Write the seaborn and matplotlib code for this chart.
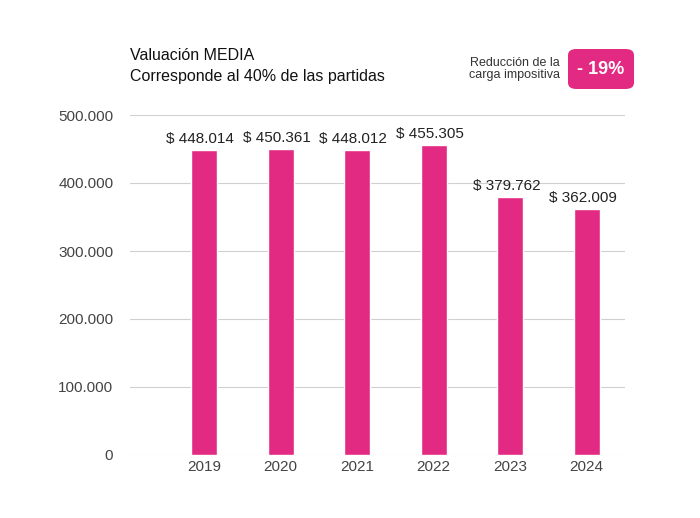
import matplotlib.pyplot as plt
import seaborn as sns
import pandas as pd
from matplotlib.patches import FancyBboxPatch

years = ["2019", "2020", "2021", "2022", "2023", "2024"]
values = [448014, 450361, 448012, 455305, 379762, 362009]
labels = ["$ 448.014", "$ 450.361", "$ 448.012", "$ 455.305", "$ 379.762", "$ 362.009"]
yticks = [0, 100000, 200000, 300000, 400000, 500000]
ytick_labels = ["0", "100.000", "200.000", "300.000", "400.000", "500.000"]

pink = "#E32A82"
df = pd.DataFrame({"year": years, "value": values})

sns.set_style("white")
plt.rcParams["font.family"] = ["Liberation Sans", "DejaVu Sans"]

fig = plt.figure(figsize=(7, 5.18), dpi=100)
ax = fig.add_axes([130 / 700, 1 - 455 / 518, 495 / 700, 340 / 518])
sns.barplot(data=df, x="year", y="value", color=pink, width=0.34, saturation=1, ax=ax)

ax.set_ylim(0, 500000)
ax.set_xlim(-0.97, 5.5)
ax.set_yticks(yticks)
ax.set_yticklabels(ytick_labels, fontsize=11, color="#444444")
ax.tick_params(axis="x", labelsize=11, colors="#444444", length=0)
ax.tick_params(axis="y", length=0, pad=12)
ax.yaxis.grid(True, color="#d0d0d0", linewidth=0.8)
ax.set_axisbelow(True)
ax.set_xlabel("")
ax.set_ylabel("")
for s in ax.spines.values():
    s.set_visible(False)

for i, (v, t) in enumerate(zip(values, labels)):
    ax.text(i - 0.05, v + 6000, t, ha="center", va="bottom", fontsize=11, color="#222222")

fig.text(130 / 700, 1 - 56 / 518, "Valuación MEDIA", fontsize=11.5, va="center", color="#111111")
fig.text(130 / 700, 1 - 76 / 518, "Corresponde al 40% de las partidas", fontsize=11.5,
         va="center", color="#111111")

fig.text(560 / 700, 1 - 69 / 518, "Reducción de la\ncarga impositiva", fontsize=9,
         ha="right", va="center", color="#333333", linespacing=0.9)
box = FancyBboxPatch((568 / 700, 1 - 89 / 518), 66 / 700, 40 / 518,
                     boxstyle="round,pad=0,rounding_size=0.012", transform=fig.transFigure,
                     facecolor=pink, edgecolor="none")
fig.patches.append(box)
fig.text(601 / 700, 1 - 69 / 518, "- 19%", fontsize=13, fontweight="bold", color="white",
         ha="center", va="center")

fig.savefig("out.png", dpi=100)
